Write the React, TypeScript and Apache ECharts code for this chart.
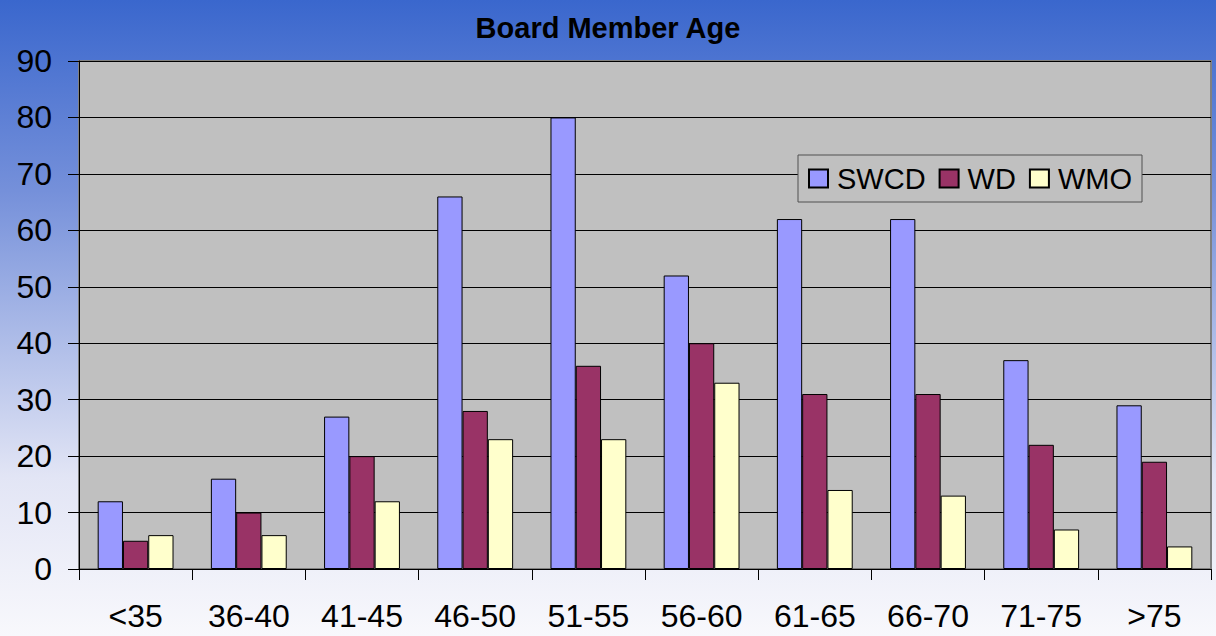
import React, { useEffect, useRef } from "react";
import * as echarts from "echarts";

const categories = ["<35", "36-40", "41-45", "46-50", "51-55", "56-60", "61-65", "66-70", "71-75", ">75"];
const swcd = [12, 16, 27, 66, 80, 52, 62, 62, 37, 29];
const wd = [5, 10, 20, 28, 36, 40, 31, 31, 22, 19];
const wmo = [6, 6, 12, 23, 23, 33, 14, 13, 7, 4];
const seriesNames = ["SWCD", "WD", "WMO"];
const seriesColors = ["#9999FF", "#993366", "#FFFFCC"];

export default function App() {
  const ref = useRef<HTMLDivElement>(null);
  useEffect(() => {
    if (!ref.current) return;
    const chart = echarts.init(ref.current, null, { renderer: "svg" });
    const font = "'Liberation Sans', Arial, sans-serif";
    const data = [swcd, wd, wmo];
    chart.setOption({
      animation: false,
      backgroundColor: {
        type: "linear",
        x: 0, y: 0, x2: 0, y2: 1,
        colorStops: [
          { offset: 0, color: "#3A67CD" },
          { offset: 0.3, color: "#7590DA" },
          { offset: 0.75, color: "#E2E5F5" },
          { offset: 1, color: "#F8F8FC" },
        ],
      },
      title: {
        text: "Board Member Age",
        left: "center",
        top: 8,
        textStyle: { fontFamily: font, fontSize: 29, fontWeight: "bold", color: "#000" },
      },
      legend: {
        left: 798,
        top: 155,
        orient: "horizontal",
        padding: [9, 10],
        icon: "rect",
        itemWidth: 19,
        itemHeight: 18,
        itemGap: 13,
        backgroundColor: "#C0C0C0",
        borderColor: "#505050",
        borderWidth: 1,
        textStyle: { fontFamily: font, fontSize: 29, color: "#000", padding: [0, 0, 0, 4], lineHeight: 29 },
        data: seriesNames,
      },
      grid: {
        left: 79,
        right: 5,
        top: 61,
        bottom: 67,
        show: true,
        backgroundColor: "#C0C0C0",
        borderColor: "#808080",
        borderWidth: 2,
      },
      xAxis: {
        type: "category",
        data: categories,
        axisLine: { show: true, lineStyle: { color: "#000", width: 1 } },
        axisTick: { show: true, length: 11, lineStyle: { color: "#000" } },
        axisLabel: { fontFamily: font, fontSize: 32, color: "#000", margin: 31 },
        splitLine: { show: false },
      },
      yAxis: {
        type: "value",
        min: 0,
        max: 90,
        interval: 10,
        axisLine: { show: true, lineStyle: { color: "#000", width: 1 } },
        axisTick: { show: true, length: 11, lineStyle: { color: "#000" } },
        axisLabel: { fontFamily: font, fontSize: 32, color: "#000", margin: 27 },
        splitLine: { show: true, lineStyle: { color: "#000", width: 1 } },
      },
      series: seriesNames.map((name, i) => ({
        name,
        type: "bar",
        data: data[i],
        barGap: "0%",
        barCategoryGap: "33%",
        itemStyle: { color: seriesColors[i], borderColor: "#000", borderWidth: 1 },
      })),
    });
    return () => chart.dispose();
  }, []);
  return <div ref={ref} style={{ position: "fixed", left: 0, top: 0, width: 1216, height: 636 }} />;
}
